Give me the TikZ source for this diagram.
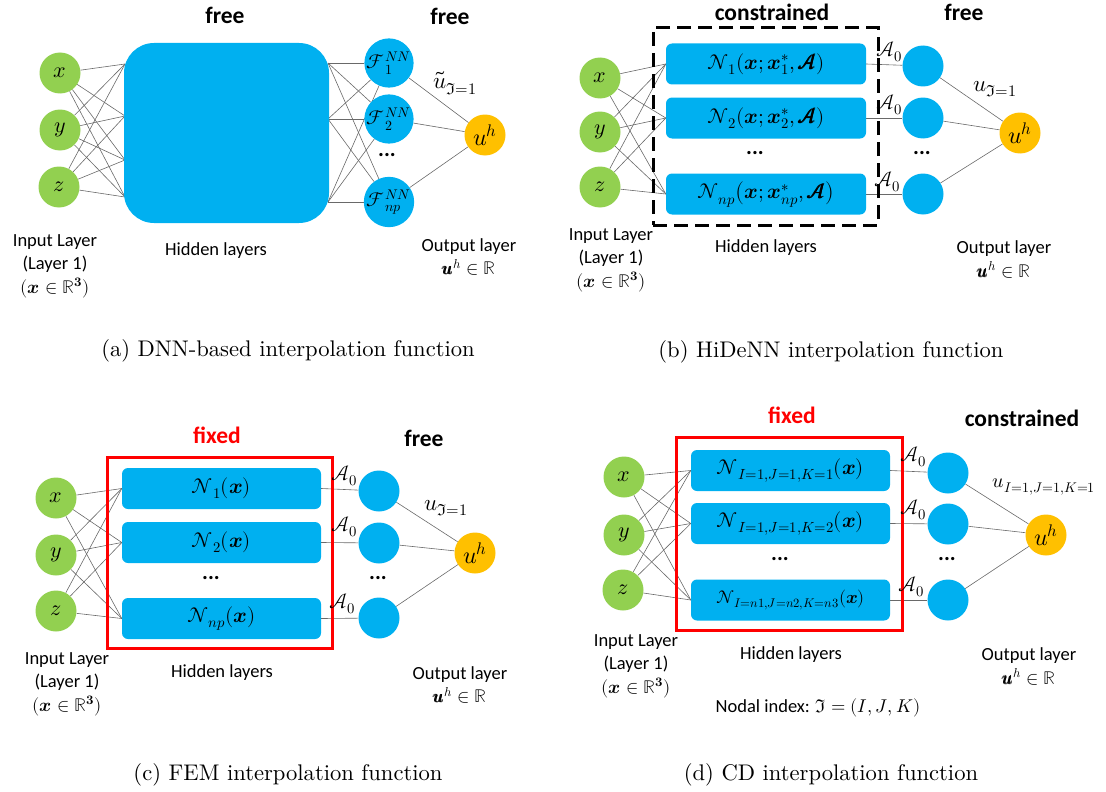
\documentclass[tikz,border=0pt]{standalone}
\usepackage{amsmath}
\usepackage{unicode-math}
\setmathfont{Latin Modern Math}
\newfontfamily\labelfont{Carlito}
\newfontfamily\capfont{lmroman10-regular}[Extension=.otf]
\usetikzlibrary{backgrounds}
\definecolor{ingreen}{RGB}{146,208,80}
\definecolor{hidblue}{RGB}{0,176,240}
\definecolor{outorange}{RGB}{255,192,0}
\definecolor{fixred}{RGB}{255,0,0}
\definecolor{wiregray}{RGB}{105,105,105}

\begin{document}
\begin{tikzpicture}[
    x=1pt, y=-1pt,
    innode/.style={circle, fill=ingreen, minimum size=41pt, inner sep=0pt, font=\fontsize{22}{24}\selectfont},
    hidnode/.style={circle, fill=hidblue, minimum size=41pt, inner sep=0pt, font=\fontsize{20}{22}\selectfont},
    outnode/.style={circle, fill=outorange, minimum size=41pt, inner sep=0pt, font=\fontsize{24}{26}\selectfont},
    shapebox/.style={rectangle, rounded corners=6pt, fill=hidblue, minimum width=200pt, minimum height=41pt, inner sep=0pt, font=\fontsize{21}{23}\selectfont},
    wire/.style={wiregray, line width=0.6pt},
    headtxt/.style={font=\labelfont\bfseries\fontsize{23.5}{26}\selectfont},
    layertxt/.style={align=center, font=\labelfont\fontsize{18.5}{23.5}\selectfont},
    wlabel/.style={font=\fontsize{23}{25}\selectfont},
    alabel/.style={font=\fontsize{21}{23}\selectfont},
    dottxt/.style={font=\labelfont\bfseries\fontsize{22}{24}\selectfont},
    captxt/.style={font=\capfont\fontsize{22.6}{26}\selectfont},
]
\useasboundingbox (0,0) rectangle (1106,792);

% (a) DNN-based
\node[headtxt] (a-head1) at (225,15) {free};
\node[headtxt] (a-head2) at (450,16) {free};
\node[innode] (a-x) at (60,73) {$x$};
\node[innode] (a-y) at (60,130) {$y$};
\node[innode] (a-z) at (59,187) {$z$};
\node[fill=hidblue, rounded corners=30pt, minimum width=205pt, minimum height=180pt] (a-hid) at (226.5,133) {};
\coordinate (a-l1) at (125,64);
\coordinate (a-l2) at (125,116);
\coordinate (a-l3) at (125,160);
\coordinate (a-l4) at (125,197);
\coordinate (a-r1) at (328,63);
\coordinate (a-r2) at (328,119);
\coordinate (a-r3) at (328,202);
\node[hidnode] (a-f1) at (389,63) {$\mathcal{F}_1^{NN}$};
\node[hidnode] (a-f2) at (389,119) {$\mathcal{F}_2^{NN}$};
\node[hidnode] (a-fn) at (389,202) {$\mathcal{F}_{np}^{NN}$};
\node[dottxt] (a-dots) at (387,155) {...};
\node[outnode] (a-out) at (485,135) {$\mathscr{u}^h$};
\node[wlabel] (a-wlab) at (455,83) {$\widetilde{\mathscr{u}}_{\mathfrak{I}=1}$};
\node[layertxt] (a-in) at (55,266) {Input Layer\\(Layer 1)\\$(\symbfit{x}\in\mathbb{R}^{\symbf{3}})$};
\node[layertxt] (a-hl) at (216,251) {Hidden layers};
\node[layertxt] (a-ol) at (469,257) {Output layer\\$\pmb{\mathscr{u}}^h\in\mathbb{R}$};
\node[captxt] (a-cap) at (288,351) {(a) DNN-based interpolation function};

% (b) HiDeNN
\node[headtxt] (b-head1) at (772,12) {constrained};
\node[headtxt] (b-head2) at (964,12) {free};
\node[innode] (b-x) at (600,78) {$x$};
\node[innode] (b-y) at (600,132) {$y$};
\node[innode] (b-z) at (600,187) {$z$};
\node[shapebox] (b-n1) at (766,64) {$\mathcal{N}_1(\symbfit{x};\symbfit{x}_1^*,\pmb{\mathcal{A}})$};
\node[shapebox] (b-n2) at (766,118) {$\mathcal{N}_2(\symbfit{x};\symbfit{x}_2^*,\pmb{\mathcal{A}})$};
\node[shapebox] (b-nn) at (766,194) {$\mathcal{N}_{np}\big(\symbfit{x};\symbfit{x}_{np}^*,\pmb{\mathcal{A}}\big)$};
\node[dottxt] (b-dots1) at (755,153) {...};
\node[draw, line width=3pt, dash pattern=on 14pt off 7pt, minimum width=225pt, minimum height=197pt] (b-frame) at (765.5,126.5) {};
\node[hidnode] (b-h1) at (923,66) {};
\node[hidnode] (b-h2) at (923,118) {};
\node[hidnode] (b-hn) at (923,194) {};
\node[dottxt] (b-dots2) at (922,153) {...};
\node[outnode] (b-out) at (1020,133) {$\mathscr{u}^h$};
\node[alabel] (b-a1) at (889,52) {$\mathcal{A}_0$};
\node[alabel] (b-a2) at (889,105) {$\mathcal{A}_0$};
\node[alabel] (b-an) at (887,182) {$\mathcal{A}_0$};
\node[wlabel] (b-wlab) at (995,89) {$\mathscr{u}_{\mathfrak{I}=1}$};
\node[layertxt] (b-in) at (611,260) {Input Layer\\(Layer 1)\\$(\symbfit{x}\in\mathbb{R}^{\symbf{3}})$};
\node[layertxt] (b-hl) at (766,248) {Hidden layers};
\node[layertxt] (b-ol) at (1004,259.5) {Output layer\\$\pmb{\mathscr{u}}^h\in\mathbb{R}$};
\node[captxt] (b-cap) at (831,352) {(b) HiDeNN interpolation function};

% (c) FEM
\node[headtxt, text=fixred] (c-head1) at (217,435) {fixed};
\node[headtxt] (c-head2) at (424,438) {free};
\node[innode] (c-x) at (56,498) {$x$};
\node[innode] (c-y) at (56,555) {$y$};
\node[innode] (c-z) at (56,611) {$z$};
\node[draw=fixred, line width=3pt, minimum width=225pt, minimum height=191pt] (c-frame) at (219.5,552.5) {};
\node[shapebox, minimum width=199pt] (c-n1) at (221.5,488.5) {$\mathcal{N}_1(\symbfit{x})$};
\node[shapebox, minimum width=199pt] (c-n2) at (221.5,542.5) {$\mathcal{N}_2(\symbfit{x})$};
\node[shapebox, minimum width=199pt] (c-nn) at (221.5,618.5) {$\mathcal{N}_{np}(\symbfit{x})$};
\node[dottxt] (c-dots1) at (211,578) {...};
\node[hidnode] (c-h1) at (379,491) {};
\node[hidnode] (c-h2) at (379,543) {};
\node[hidnode] (c-hn) at (379,618) {};
\node[dottxt] (c-dots2) at (378,578) {...};
\node[outnode] (c-out) at (475,553) {$\mathscr{u}^h$};
\node[alabel] (c-a1) at (344,476) {$\mathcal{A}_0$};
\node[alabel] (c-a2) at (344,527) {$\mathcal{A}_0$};
\node[alabel] (c-an) at (342,604) {$\mathcal{A}_0$};
\node[wlabel] (c-wlab) at (446,508) {$\mathscr{u}_{\mathfrak{I}=1}$};
\node[layertxt] (c-in) at (67,684) {Input Layer\\(Layer 1)\\$(\symbfit{x}\in\mathbb{R}^{\symbf{3}})$};
\node[layertxt] (c-hl) at (222,673) {Hidden layers};
\node[layertxt] (c-ol) at (460,685) {Output layer\\$\pmb{\mathscr{u}}^h\in\mathbb{R}$};
\node[captxt] (c-cap) at (288,775) {(c) FEM interpolation function};

% (d) CD
\node[headtxt, text=fixred] (d-head1) at (792,415) {fixed};
\node[headtxt] (d-head2) at (1022,418) {constrained};
\node[innode] (d-x) at (624,477) {$x$};
\node[innode] (d-y) at (624,535) {$y$};
\node[innode] (d-z) at (623,590) {$z$};
\node[draw=fixred, line width=3pt, minimum width=226pt, minimum height=193pt] (d-frame) at (789,533.5) {};
\node[shapebox, minimum width=199pt] (d-n1) at (790.5,470.5) {$\mathcal{N}_{I=1,J=1,K=1}(\symbfit{x})$};
\node[shapebox, minimum width=199pt] (d-n2) at (790.5,523.5) {$\mathcal{N}_{I=1,J=1,K=2}(\symbfit{x})$};
\node[shapebox, minimum width=199pt, font=\fontsize{18}{20}\selectfont] (d-nn) at (790.5,600) {$\mathcal{N}_{I=n1,J=n2,K=n3}(\symbfit{x})$};
\node[dottxt] (d-dots1) at (780,559) {...};
\node[hidnode] (d-h1) at (948,473) {};
\node[hidnode] (d-h2) at (948,524) {};
\node[hidnode] (d-hn) at (948,600) {};
\node[dottxt] (d-dots2) at (947,559) {...};
\node[outnode] (d-out) at (1046,535) {$\mathscr{u}^h$};
\node[alabel] (d-a1) at (913,457) {$\mathcal{A}_0$};
\node[alabel] (d-a2) at (913,510) {$\mathcal{A}_0$};
\node[alabel] (d-an) at (911,587) {$\mathcal{A}_0$};
\node[wlabel, font=\fontsize{20}{22}\selectfont] (d-wlab) at (1044,487) {$\mathscr{u}_{I=1,J=1,K=1}$};
\node[layertxt] (d-in) at (636,666) {Input Layer\\(Layer 1)\\$(\symbfit{x}\in\mathbb{R}^{\symbf{3}})$};
\node[layertxt] (d-hl) at (791,655) {Hidden layers};
\node[layertxt] (d-ol) at (1029,666.5) {Output layer\\$\pmb{\mathscr{u}}^h\in\mathbb{R}$};
\node[layertxt] (d-idx) at (818,708) {Nodal index: $\mathfrak{I}=(I,J,K)$};
\node[captxt] (d-cap) at (831,775) {(d) CD interpolation function};

% connectors
\begin{scope}[on background layer]
    \foreach \s in {a-x,a-y,a-z}
        \foreach \t in {a-l1,a-l2,a-l3,a-l4}
            \draw[wire] (\s) -- (\t);
    \foreach \s in {a-r1,a-r2,a-r3}
        \foreach \t in {a-f1,a-f2,a-fn}
            \draw[wire] (\s) -- (\t);
    \foreach \s in {a-f1,a-f2,a-fn}
        \draw[wire] (\s) -- (a-out);
    \foreach \p in {b,c,d} {
        \foreach \s in {x,y,z}
            \foreach \t in {n1,n2,nn}
                \draw[wire] (\p-\s) -- (\p-\t.west);
        \foreach \t in {1,2,n} {
            \draw[wire] (\p-n\t.east) -- (\p-h\t);
            \draw[wire] (\p-h\t) -- (\p-out);
        }
    }
\end{scope}
\end{tikzpicture}
\end{document}
